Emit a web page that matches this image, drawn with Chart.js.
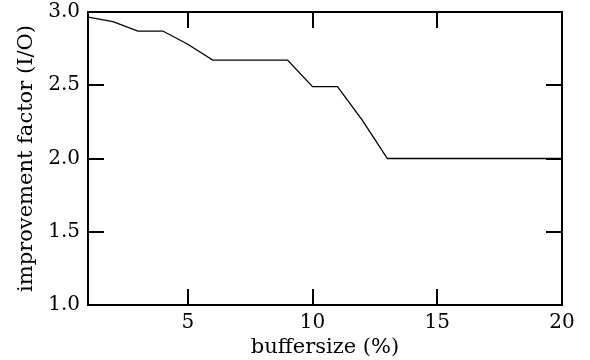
<!DOCTYPE html>
<html>
<head>
<meta charset="utf-8">
<script src="https://cdn.jsdelivr.net/npm/chart.js@4.4.0/dist/chart.umd.min.js"></script>
<style>
  html, body { margin: 0; padding: 0; background: #fff; }
  #wrap { width: 590px; height: 360px; }
</style>
</head>
<body>
<div id="wrap"><canvas id="chart" width="590" height="360"></canvas></div>
<script>
// buffer size (%) and improvement factor
const bufferSize = [1, 2, 3, 4, 5, 6, 7, 8, 9, 10, 11, 12, 13, 14, 15, 16, 17, 18, 19, 20];
const improvement = [2.965, 2.935, 2.87, 2.87, 2.78, 2.672, 2.672, 2.672, 2.672, 2.49, 2.49, 2.26, 2.0, 2.0, 2.0, 2.0, 2.0, 2.0, 2.0, 2.0];
const xTicks = [5, 10, 15, 20];
const yTicks = [1.0, 1.5, 2.0, 2.5, 3.0];

const fontFamily = '"DejaVu Serif", "Liberation Serif", serif';
const tickSize = 20;
const titleSize = 21;

// inward ticks on all four sides plus the box frame
const frameTicks = {
    id: 'frameTicks',
    afterDraw(chart) {
        const ctx = chart.ctx;
        const a = chart.chartArea;
        const xs = chart.scales.x;
        const ys = chart.scales.y;
        const len = 16;
        ctx.save();
        ctx.strokeStyle = '#000';
        ctx.lineWidth = 2;
        ctx.strokeRect(a.left, a.top, a.right - a.left, a.bottom - a.top);
        xTicks.forEach(v => {
            const px = Math.round(xs.getPixelForValue(v));
            ctx.beginPath();
            ctx.moveTo(px, a.bottom); ctx.lineTo(px, a.bottom - len);
            ctx.moveTo(px, a.top); ctx.lineTo(px, a.top + len);
            ctx.stroke();
        });
        yTicks.forEach(v => {
            const py = Math.round(ys.getPixelForValue(v));
            ctx.beginPath();
            ctx.moveTo(a.left, py); ctx.lineTo(a.left + len, py);
            ctx.moveTo(a.right, py); ctx.lineTo(a.right - len, py);
            ctx.stroke();
        });
        ctx.restore();
    }
};

new Chart(document.getElementById('chart'), {
    type: 'line',
    data: {
        datasets: [{
            data: bufferSize.map((x, i) => ({ x: x, y: improvement[i] })),
            borderColor: '#000',
            borderWidth: 1.3,
            pointRadius: 0,
            tension: 0,
            fill: false
        }]
    },
    options: {
        responsive: false,
        animation: false,
        devicePixelRatio: 1,
        layout: { padding: { top: 12, right: 28, left: 0, bottom: 0 } },
        plugins: {
            legend: { display: false },
            tooltip: { enabled: false }
        },
        scales: {
            x: {
                type: 'linear',
                min: 1,
                max: 20,
                afterBuildTicks: scale => { scale.ticks = xTicks.map(v => ({ value: v })); },
                afterFit: scale => {
                    scale.height = 55;
                    scale.paddingLeft = 0;
                    scale.paddingRight = 0;
                },
                grid: { display: false, drawTicks: false },
                border: { display: false },
                ticks: {
                    color: '#000',
                    padding: 6,
                    maxRotation: 0,
                    font: { family: fontFamily, size: tickSize }
                },
                title: {
                    display: true,
                    text: 'buffersize (%)',
                    color: '#000',
                    padding: { top: -6, bottom: 0 },
                    font: { family: fontFamily, size: titleSize }
                }
            },
            y: {
                min: 1,
                max: 3,
                afterBuildTicks: scale => { scale.ticks = yTicks.map(v => ({ value: v })); },
                afterFit: scale => {
                    scale.width = 88;
                    scale.paddingTop = 0;
                    scale.paddingBottom = 0;
                },
                grid: { display: false, drawTicks: false },
                border: { display: false },
                ticks: {
                    color: '#000',
                    padding: 8,
                    font: { family: fontFamily, size: tickSize },
                    callback: v => v.toFixed(1)
                },
                title: {
                    display: true,
                    text: 'improvement factor (I/O)',
                    color: '#000',
                    padding: { top: 14, bottom: 0 },
                    font: { family: fontFamily, size: titleSize }
                }
            }
        }
    },
    plugins: [frameTicks]
});
</script>
</body>
</html>
